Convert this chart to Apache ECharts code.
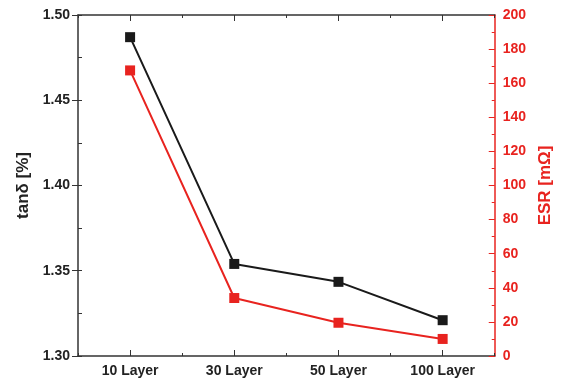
<!DOCTYPE html>
<html>
<head>
<meta charset="utf-8">
<script src="https://cdn.jsdelivr.net/npm/echarts@6/dist/echarts.min.js"></script>
<style>
  html, body { margin: 0; padding: 0; background: #fff; }
  #chart { width: 562px; height: 382px; }
</style>
</head>
<body>
<div id="chart"></div>
<script>
// Layer counts on the x axis
const categories = ['10 Layer', '30 Layer', '50 Layer', '100 Layer'];
// Dissipation factor tanδ [%] (left axis)
const tanDelta = [1.487, 1.354, 1.3435, 1.321];
// Equivalent series resistance [mΩ] (right axis)
const esr = [167.5, 34, 19.5, 10];

const FONT = 'Liberation Sans, Arial, sans-serif';
const RED = '#e8231f';
const DARK = '#333333';

const chart = echarts.init(document.getElementById('chart'));

const hiddenLabel = { show: false };
const catBase = {
  type: 'category',
  data: categories,
  boundaryGap: true,
  axisLabel: hiddenLabel,
  splitLine: { show: false }
};

chart.setOption({
  animation: false,
  backgroundColor: '#ffffff',
  grid: { left: 78, right: 61, top: 15, bottom: 26, containLabel: false },
  xAxis: [
    {
      ...catBase,
      position: 'bottom',
      axisLine: { show: true, lineStyle: { color: DARK, width: 1.5 } },
      axisTick: { show: true, inside: true, alignWithLabel: true, length: 6, lineStyle: { color: DARK, width: 1 } },
      axisLabel: { show: true, color: '#222', fontFamily: FONT, fontWeight: 'bold', fontSize: 14, margin: 8 }
    },
    {
      ...catBase,
      position: 'bottom',
      axisLine: { show: false },
      axisTick: { show: true, inside: true, alignWithLabel: false, length: 3, lineStyle: { color: DARK, width: 1 } }
    },
    {
      ...catBase,
      position: 'top',
      axisLine: { show: true, lineStyle: { color: DARK, width: 1.5 } },
      axisTick: { show: true, inside: true, alignWithLabel: true, length: 6, lineStyle: { color: DARK, width: 1 } }
    },
    {
      ...catBase,
      position: 'top',
      axisLine: { show: false },
      axisTick: { show: true, inside: true, alignWithLabel: false, length: 3, lineStyle: { color: DARK, width: 1 } }
    }
  ],
  yAxis: [
    {
      type: 'value',
      position: 'left',
      min: 1.30,
      max: 1.50,
      interval: 0.05,
      name: 'tanδ [%]',
      nameLocation: 'middle',
      nameGap: 40,
      nameTextStyle: { color: '#222', fontFamily: FONT, fontWeight: 'bold', fontSize: 17 },
      axisLine: { show: true, lineStyle: { color: DARK, width: 1.5 } },
      axisTick: { show: true, inside: false, length: 6, lineStyle: { color: DARK, width: 1 } },
      axisLabel: {
        color: '#222', fontFamily: FONT, fontWeight: 'bold', fontSize: 14, margin: 8,
        formatter: v => v.toFixed(2)
      },
      splitLine: { show: false }
    },
    {
      type: 'value',
      position: 'right',
      min: 0,
      max: 200,
      interval: 20,
      name: 'ESR [mΩ]',
      nameLocation: 'middle',
      nameGap: 42,
      nameRotate: 90,
      nameTextStyle: { color: RED, fontFamily: FONT, fontWeight: 'bold', fontSize: 17 },
      axisLine: { show: true, lineStyle: { color: RED, width: 1.5 } },
      axisTick: { show: true, inside: true, length: 6, lineStyle: { color: RED, width: 1 } },
      minorTick: { show: true, splitNumber: 2, length: 3, lineStyle: { color: RED, width: 1 } },
      axisLabel: { color: RED, fontFamily: FONT, fontWeight: 'bold', fontSize: 14, margin: 8 },
      splitLine: { show: false },
      minorSplitLine: { show: false }
    },
    {
      // inner minor ticks of the left axis
      type: 'value',
      position: 'left',
      min: 1.30,
      max: 1.50,
      interval: 0.025,
      axisLine: { show: false },
      axisTick: { show: true, inside: true, length: 4, lineStyle: { color: DARK, width: 1 } },
      axisLabel: hiddenLabel,
      splitLine: { show: false }
    }
  ],
  series: [
    {
      name: 'tanδ',
      type: 'line',
      xAxisIndex: 0,
      yAxisIndex: 0,
      data: tanDelta,
      symbol: 'rect',
      symbolSize: 10,
      lineStyle: { color: '#1a1a1a', width: 2 },
      itemStyle: { color: '#1a1a1a' },
      z: 3
    },
    {
      name: 'ESR',
      type: 'line',
      xAxisIndex: 0,
      yAxisIndex: 1,
      data: esr,
      symbol: 'rect',
      symbolSize: 10,
      lineStyle: { color: RED, width: 2 },
      itemStyle: { color: RED },
      z: 3
    }
  ]
});
</script>
</body>
</html>
